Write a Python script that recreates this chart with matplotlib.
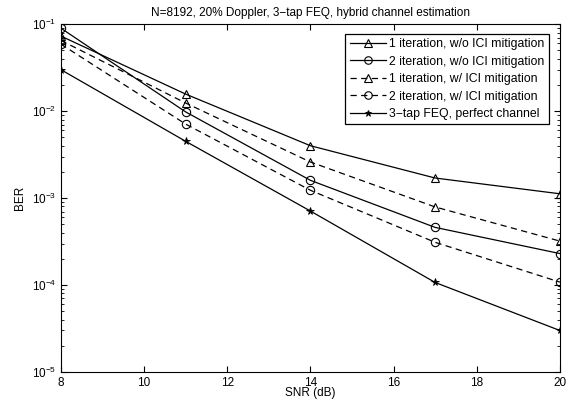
import numpy as np
import matplotlib
matplotlib.use("Agg")
import matplotlib.pyplot as plt

# SNR points (dB)
snr = [8, 11, 14, 17, 20]

# BER curves
ber_1it_noici = [0.073, 0.0157, 0.0040, 0.0017, 0.00112]
ber_2it_noici = [0.090, 0.0098, 0.0016, 0.00046, 0.00023]
ber_1it_ici = [0.065, 0.0124, 0.0026, 0.00079, 0.00032]
ber_2it_ici = [0.059, 0.0071, 0.00123, 0.00031, 0.000108]
ber_perfect = [0.030, 0.0045, 0.00071, 0.000107, 0.000030]

labels = ['1 iteration, w/o ICI mitigation',
          '2 iteration, w/o ICI mitigation',
          '1 iteration, w/ ICI mitigation',
          '2 iteration, w/ ICI mitigation',
          '3\u2212tap FEQ, perfect channel']

plt.rcParams['font.family'] = ['Liberation Sans', 'DejaVu Sans']

fig = plt.figure(figsize=(5.79, 4.09), dpi=100)
ax = fig.add_axes([0.105, 0.0905, 0.862, 0.8505])

dash = (0, (5, 3.5))
mk = dict(markersize=6, markerfacecolor='none', markeredgewidth=0.8, color='k', lw=0.9)
ax.semilogy(snr, ber_1it_noici, '-', marker='^', label=labels[0], **mk)
ax.semilogy(snr, ber_2it_noici, '-', marker='o', label=labels[1], **mk)
ax.semilogy(snr, ber_1it_ici, linestyle=dash, marker='^', label=labels[2], **mk)
ax.semilogy(snr, ber_2it_ici, linestyle=dash, marker='o', label=labels[3], **mk)
ax.semilogy(snr, ber_perfect, '-', marker='*', color='k', lw=0.9, markersize=5.5,
            markeredgewidth=0.6, label=labels[4])

ax.set_xlim(8, 20)
ax.set_ylim(1e-5, 1e-1)
ax.set_xticks([8, 10, 12, 14, 16, 18, 20])
ax.tick_params(which='both', direction='in', top=True, right=True, labelsize=8.5)
ax.tick_params(which='major', length=4)
ax.tick_params(which='minor', length=2)
ax.set_xlabel('SNR (dB)', fontsize=8.5, labelpad=-1)
ax.set_ylabel('BER', fontsize=8.5)
ax.set_title('N=8192, 20% Doppler, 3\u2212tap FEQ, hybrid channel estimation',
             fontsize=8.5, pad=6)

leg = ax.legend(loc='upper right', bbox_to_anchor=(0.978, 0.972), borderaxespad=0,
                fontsize=8.8, fancybox=False, edgecolor='k', framealpha=1,
                handlelength=3.0, handletextpad=0.25, labelspacing=0.45,
                borderpad=0.35, markerscale=0.9)
leg.get_frame().set_linewidth(0.9)

fig.savefig('out.png', dpi=100)
